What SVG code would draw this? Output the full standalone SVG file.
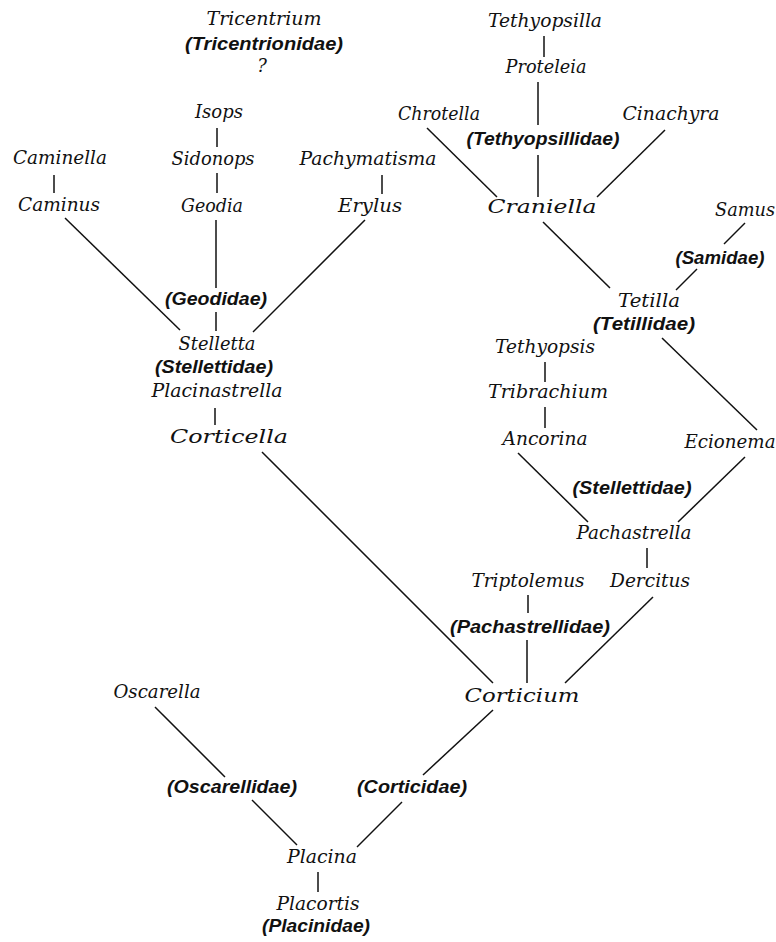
<svg xmlns="http://www.w3.org/2000/svg" width="776" height="942" viewBox="0 0 776 942">
<style>
.g{font-family:"DejaVu Serif","Liberation Serif",serif;font-style:italic;font-size:18px;fill:#111;text-anchor:middle}
.f{font-family:"Liberation Sans","DejaVu Sans",sans-serif;font-style:italic;font-weight:bold;font-size:17.5px;fill:#111;text-anchor:middle}
.c line{stroke:#111;stroke-width:1.5;stroke-linecap:butt}
</style>
<rect width="776" height="942" fill="#ffffff"/>
<g class="c" id="connectors">
<line x1="54" y1="175" x2="54" y2="193"/>
<line x1="217" y1="128" x2="217" y2="147"/>
<line x1="217" y1="173" x2="217" y2="193"/>
<line x1="216" y1="220" x2="216" y2="288"/>
<line x1="216" y1="312" x2="216" y2="331"/>
<line x1="382" y1="175" x2="382" y2="194"/>
<line x1="65" y1="218" x2="180" y2="330"/>
<line x1="365" y1="220" x2="253" y2="332"/>
<line x1="215" y1="408" x2="215" y2="425"/>
<line x1="262" y1="452" x2="493" y2="683"/>
<line x1="544" y1="36" x2="544" y2="57"/>
<line x1="538" y1="82" x2="538" y2="125"/>
<line x1="538" y1="155" x2="538" y2="197"/>
<line x1="427" y1="128" x2="497" y2="197"/>
<line x1="665" y1="130" x2="597" y2="197"/>
<line x1="543" y1="222" x2="610" y2="288"/>
<line x1="745" y1="223" x2="724" y2="244"/>
<line x1="697" y1="269" x2="676" y2="290"/>
<line x1="662" y1="338" x2="757" y2="430"/>
<line x1="545" y1="362" x2="545" y2="382"/>
<line x1="545" y1="407" x2="545" y2="428"/>
<line x1="518" y1="453" x2="588" y2="522"/>
<line x1="745" y1="457" x2="678" y2="522"/>
<line x1="647" y1="548" x2="647" y2="568"/>
<line x1="528" y1="595" x2="528" y2="613"/>
<line x1="527" y1="640" x2="527" y2="683"/>
<line x1="653" y1="597" x2="565" y2="683"/>
<line x1="493" y1="710" x2="423" y2="775"/>
<line x1="402" y1="802" x2="357" y2="847"/>
<line x1="155" y1="707" x2="225" y2="777"/>
<line x1="252" y1="800" x2="297" y2="845"/>
<line x1="318" y1="872" x2="318" y2="892"/>
</g>
<g id="n-tricentrium">
<text class="g" x="264" y="25" textLength="115" lengthAdjust="spacingAndGlyphs">Tricentrium</text>
<text class="f" x="264" y="50" textLength="158" lengthAdjust="spacingAndGlyphs">(Tricentrionidae)</text>
<text class="g" x="262" y="72">?</text>
</g>
<g id="n-isops"><text class="g" x="219" y="118" textLength="48" lengthAdjust="spacingAndGlyphs">Isops</text></g>
<g id="n-sidonops"><text class="g" x="213" y="165" textLength="83" lengthAdjust="spacingAndGlyphs">Sidonops</text></g>
<g id="n-geodia"><text class="g" x="212" y="212" textLength="62" lengthAdjust="spacingAndGlyphs">Geodia</text></g>
<g id="n-caminella"><text class="g" x="60" y="164" textLength="94" lengthAdjust="spacingAndGlyphs">Caminella</text></g>
<g id="n-caminus"><text class="g" x="59" y="211" textLength="82" lengthAdjust="spacingAndGlyphs">Caminus</text></g>
<g id="n-pachymatisma"><text class="g" x="368" y="165" textLength="137" lengthAdjust="spacingAndGlyphs">Pachymatisma</text></g>
<g id="n-erylus"><text class="g" x="370" y="212" textLength="64" lengthAdjust="spacingAndGlyphs">Erylus</text></g>
<g id="n-geodidae"><text class="f" x="216" y="305" textLength="102" lengthAdjust="spacingAndGlyphs">(Geodidae)</text></g>
<g id="n-stelletta">
<text class="g" x="217" y="350" textLength="77" lengthAdjust="spacingAndGlyphs">Stelletta</text>
<text class="f" x="214" y="373" textLength="118" lengthAdjust="spacingAndGlyphs">(Stellettidae)</text>
<text class="g" x="217" y="397" textLength="131" lengthAdjust="spacingAndGlyphs">Placinastrella</text>
</g>
<g id="n-corticella"><text class="g" x="229" y="443" textLength="118" lengthAdjust="spacingAndGlyphs">Corticella</text></g>
<g id="n-tethyopsilla"><text class="g" x="545" y="27" textLength="114" lengthAdjust="spacingAndGlyphs">Tethyopsilla</text></g>
<g id="n-proteleia"><text class="g" x="546" y="73" textLength="81" lengthAdjust="spacingAndGlyphs">Proteleia</text></g>
<g id="n-chrotella"><text class="g" x="439" y="120" textLength="82" lengthAdjust="spacingAndGlyphs">Chrotella</text></g>
<g id="n-cinachyra"><text class="g" x="671" y="120" textLength="97" lengthAdjust="spacingAndGlyphs">Cinachyra</text></g>
<g id="n-tethyopsillidae"><text class="f" x="543" y="145" textLength="153" lengthAdjust="spacingAndGlyphs">(Tethyopsillidae)</text></g>
<g id="n-craniella"><text class="g" x="542" y="213" textLength="109" lengthAdjust="spacingAndGlyphs">Craniella</text></g>
<g id="n-samus"><text class="g" x="745" y="216" textLength="60" lengthAdjust="spacingAndGlyphs">Samus</text></g>
<g id="n-samidae"><text class="f" x="720" y="264" textLength="89" lengthAdjust="spacingAndGlyphs">(Samidae)</text></g>
<g id="n-tetilla">
<text class="g" x="649" y="307" textLength="62" lengthAdjust="spacingAndGlyphs">Tetilla</text>
<text class="f" x="644" y="330" textLength="102" lengthAdjust="spacingAndGlyphs">(Tetillidae)</text>
</g>
<g id="n-tethyopsis"><text class="g" x="545" y="353" textLength="100" lengthAdjust="spacingAndGlyphs">Tethyopsis</text></g>
<g id="n-tribrachium"><text class="g" x="548" y="398" textLength="120" lengthAdjust="spacingAndGlyphs">Tribrachium</text></g>
<g id="n-ancorina"><text class="g" x="545" y="445" textLength="85" lengthAdjust="spacingAndGlyphs">Ancorina</text></g>
<g id="n-ecionema"><text class="g" x="730" y="448" textLength="91" lengthAdjust="spacingAndGlyphs">Ecionema</text></g>
<g id="n-stellettidae2"><text class="f" x="632" y="494" textLength="119" lengthAdjust="spacingAndGlyphs">(Stellettidae)</text></g>
<g id="n-pachastrella"><text class="g" x="634" y="539" textLength="115" lengthAdjust="spacingAndGlyphs">Pachastrella</text></g>
<g id="n-dercitus"><text class="g" x="650" y="587" textLength="80" lengthAdjust="spacingAndGlyphs">Dercitus</text></g>
<g id="n-triptolemus"><text class="g" x="528" y="587" textLength="113" lengthAdjust="spacingAndGlyphs">Triptolemus</text></g>
<g id="n-pachastrellidae"><text class="f" x="530" y="633" textLength="160" lengthAdjust="spacingAndGlyphs">(Pachastrellidae)</text></g>
<g id="n-corticium"><text class="g" x="522" y="702" textLength="115" lengthAdjust="spacingAndGlyphs">Corticium</text></g>
<g id="n-oscarella"><text class="g" x="157" y="698" textLength="87" lengthAdjust="spacingAndGlyphs">Oscarella</text></g>
<g id="n-oscarellidae"><text class="f" x="232" y="793" textLength="130" lengthAdjust="spacingAndGlyphs">(Oscarellidae)</text></g>
<g id="n-corticidae"><text class="f" x="412" y="793" textLength="110" lengthAdjust="spacingAndGlyphs">(Corticidae)</text></g>
<g id="n-placina"><text class="g" x="322" y="863" textLength="70" lengthAdjust="spacingAndGlyphs">Placina</text></g>
<g id="n-placortis">
<text class="g" x="318" y="910" textLength="83" lengthAdjust="spacingAndGlyphs">Placortis</text>
<text class="f" x="316" y="932" textLength="108" lengthAdjust="spacingAndGlyphs">(Placinidae)</text>
</g>
</svg>
